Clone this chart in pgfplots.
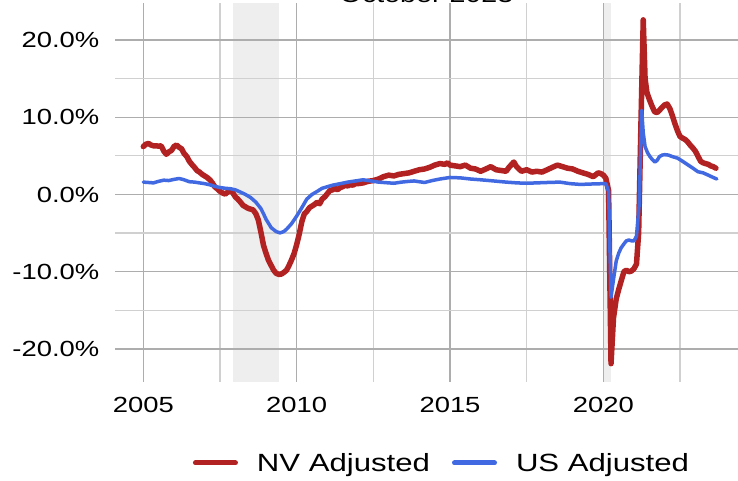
\documentclass[border=0pt]{standalone}
\usepackage{pgfplots}
\pgfplotsset{compat=1.18}
\usepackage{fontspec}
\setmainfont{Liberation Sans}[FakeStretch=1.25]
\definecolor{nvred}{HTML}{B22222}
\definecolor{usblue}{HTML}{4169E1}
\definecolor{shade}{HTML}{EEEEEE}
\definecolor{gmaj}{HTML}{ADADAD}
\definecolor{gmin}{HTML}{D0D0D0}

\begin{document}
\begin{tikzpicture}
\begin{axis}[
  set layers,
  scale only axis,
  width=623bp, height=379bp,
  at={(115bp,99bp)}, anchor=south west,
  xmin=2004.077, xmax=2024.39,
  ymin=-24.27, ymax=24.78,
  axis line style={draw=none},
  major tick length=0pt, minor tick length=0pt,
  xtick={2005,2010,2015,2020},
  xticklabels={2005,2010,2015,2020},
  minor xtick={2007.5,2012.5,2017.5,2022.5},
  ytick={-20,-10,0,10,20},
  yticklabels={-20.0\%,-10.0\%,0.0\%,10.0\%,20.0\%},
  minor ytick={-15,-5,5,15},
  grid=both,
  major grid style={gmaj, line width=1.3bp},
  minor grid style={gmin, line width=1.3bp},
  tick label style={font=\fontsize{22}{26}\selectfont, inner sep=0pt},
  xticklabel style={anchor=north, yshift=-15bp},
  yticklabel style={anchor=east, xshift=-15.5bp},
  legend columns=2,
  legend style={at={(axis description cs:0.5233,-0.2137)}, anchor=center,
    draw=none, fill=none, inner sep=0pt, font=\fontsize{25}{30}\selectfont,
    nodes={inner sep=0pt},
    /tikz/every odd column/.append style={column sep=19bp},
    /tikz/every even column/.append style={column sep=22bp}},
  legend image code/.code={\draw[#1, line width=5bp] (0bp,0bp) -- (40bp,0bp);},
]
\addplot[draw=none, fill=shade, on layer=axis background, forget plot]
  coordinates {(2007.917,-24.27) (2007.917,24.78) (2009.417,24.78) (2009.417,-24.27)} -- cycle;
\addplot[draw=none, fill=shade, on layer=axis background, forget plot]
  coordinates {(2020.02,-24.27) (2020.02,24.78) (2020.25,24.78) (2020.25,-24.27)} -- cycle;

\addplot[nvred, line width=5.5bp, line join=round, line cap=round] coordinates {
(2005.00,6.2) (2005.08,6.5) (2005.17,6.6) (2005.25,6.4) (2005.33,6.3) (2005.42,6.3)
(2005.50,6.25) (2005.58,6.3) (2005.67,5.6) (2005.75,5.2) (2005.83,5.5) (2005.92,5.7)
(2006.00,6.2) (2006.08,6.4) (2006.17,6.1) (2006.25,5.9) (2006.33,5.3) (2006.42,4.9)
(2006.50,4.3) (2006.58,3.9) (2006.67,3.5) (2006.75,3.1) (2006.83,2.9) (2006.92,2.6)
(2007.00,2.4) (2007.08,2.2) (2007.17,1.9) (2007.25,1.5) (2007.33,1.0) (2007.42,0.7)
(2007.50,0.4) (2007.58,0.2) (2007.67,0.05) (2007.75,0.3) (2007.83,0.55) (2007.92,0.2)
(2008.00,-0.3) (2008.08,-0.6) (2008.17,-1.0) (2008.25,-1.4) (2008.33,-1.6) (2008.42,-1.8)
(2008.50,-1.9) (2008.58,-2.0) (2008.67,-2.5) (2008.75,-3.3) (2008.83,-4.8) (2008.92,-6.6)
(2009.00,-7.6) (2009.08,-8.5) (2009.17,-9.2) (2009.25,-9.8) (2009.33,-10.2) (2009.42,-10.35)
(2009.50,-10.3) (2009.58,-10.1) (2009.67,-9.8) (2009.75,-9.2) (2009.83,-8.5) (2009.92,-7.6)
(2010.00,-6.5) (2010.08,-5.2) (2010.17,-3.5) (2010.25,-2.5) (2010.33,-2.2) (2010.42,-1.7)
(2010.50,-1.5) (2010.58,-1.3) (2010.67,-1.0) (2010.75,-1.2) (2010.83,-0.6) (2010.92,-0.3)
(2011.00,0.1) (2011.08,0.5) (2011.17,0.6) (2011.25,0.8) (2011.33,0.6) (2011.42,0.9)
(2011.50,1.0) (2011.58,1.2) (2011.67,1.1) (2011.75,1.3) (2011.83,1.2) (2011.92,1.4)
(2012.00,1.4) (2012.17,1.5) (2012.33,1.7) (2012.50,1.8) (2012.67,2.0) (2012.83,2.3)
(2013.00,2.5) (2013.17,2.4) (2013.33,2.6) (2013.50,2.7) (2013.67,2.8) (2013.83,3.0)
(2014.00,3.2) (2014.17,3.3) (2014.33,3.5) (2014.50,3.8) (2014.67,4.0) (2014.83,3.9)
(2014.92,4.1) (2015.00,3.8) (2015.17,3.7) (2015.33,3.6) (2015.50,3.8) (2015.67,3.4)
(2015.83,3.3) (2016.00,3.0) (2016.17,3.3) (2016.33,3.6) (2016.50,3.2) (2016.67,3.1)
(2016.83,3.0) (2016.92,3.5) (2017.08,4.2) (2017.17,3.6) (2017.33,3.0) (2017.50,3.2)
(2017.67,2.9) (2017.83,3.0) (2018.00,2.9) (2018.17,3.2) (2018.33,3.5) (2018.50,3.8)
(2018.67,3.6) (2018.83,3.4) (2019.00,3.3) (2019.17,3.0) (2019.33,2.8) (2019.50,2.6)
(2019.67,2.3) (2019.83,2.8) (2019.92,2.7) (2020.00,2.5) (2020.08,2.1) (2020.17,0.5)
(2020.25,-21.9) (2020.33,-16.0) (2020.42,-13.5) (2020.50,-12.3) (2020.58,-11.2)
(2020.67,-10.0) (2020.75,-9.8) (2020.83,-10.0) (2020.92,-9.9) (2021.00,-9.6)
(2021.08,-9.0) (2021.15,-5.0) (2021.23,10.0) (2021.30,22.6) (2021.36,15.0)
(2021.42,13.2) (2021.50,12.3) (2021.58,11.5) (2021.67,10.7) (2021.75,10.6)
(2021.83,10.9) (2021.92,11.3) (2022.00,11.6) (2022.08,11.7) (2022.17,11.1)
(2022.25,10.2) (2022.33,9.2) (2022.42,8.2) (2022.50,7.5) (2022.58,7.3) (2022.67,7.1)
(2022.75,6.8) (2022.83,6.4) (2022.92,6.0) (2023.00,5.6) (2023.08,5.0) (2023.17,4.3)
(2023.25,4.1) (2023.33,4.0) (2023.42,3.9) (2023.50,3.7) (2023.58,3.6) (2023.67,3.4)
};
\addlegendentry{NV Adjusted}

\addplot[usblue, line width=3.5bp, line join=round, line cap=round] coordinates {
(2005.00,1.6) (2005.17,1.55) (2005.33,1.5) (2005.50,1.7) (2005.67,1.85) (2005.83,1.8)
(2006.00,1.95) (2006.17,2.07) (2006.33,1.9) (2006.50,1.65) (2006.67,1.6) (2006.83,1.5)
(2007.00,1.4) (2007.17,1.25) (2007.33,1.05) (2007.50,0.9) (2007.67,0.8) (2007.83,0.75)
(2008.00,0.6) (2008.17,0.3) (2008.33,0.0) (2008.50,-0.4) (2008.67,-1.0) (2008.83,-1.8)
(2008.92,-2.5) (2009.00,-3.2) (2009.17,-4.3) (2009.33,-4.8) (2009.46,-4.97) (2009.58,-4.8)
(2009.67,-4.5) (2009.83,-3.8) (2010.00,-2.8) (2010.17,-1.7) (2010.33,-0.6) (2010.50,0.0)
(2010.67,0.4) (2010.83,0.8) (2011.00,1.0) (2011.17,1.2) (2011.42,1.4) (2011.67,1.6)
(2012.00,1.8) (2012.17,1.9) (2012.33,1.8) (2012.50,1.7) (2012.67,1.6) (2012.83,1.55)
(2013.00,1.5) (2013.17,1.45) (2013.42,1.6) (2013.67,1.7) (2013.83,1.75) (2014.00,1.65)
(2014.17,1.55) (2014.42,1.8) (2014.67,2.0) (2015.00,2.2) (2015.33,2.15) (2015.67,2.0)
(2016.00,1.9) (2016.42,1.75) (2016.83,1.6) (2017.17,1.5) (2017.50,1.45) (2017.83,1.5)
(2018.17,1.55) (2018.58,1.6) (2018.92,1.4) (2019.25,1.3) (2019.58,1.35) (2020.00,1.4)
(2020.08,1.4) (2020.17,0.4) (2020.25,-13.3) (2020.33,-11.0) (2020.42,-8.6) (2020.50,-7.6)
(2020.58,-6.9) (2020.67,-6.4) (2020.75,-6.0) (2020.83,-5.9) (2020.92,-6.0) (2021.00,-6.0)
(2021.08,-5.4) (2021.17,-1.2) (2021.25,10.9) (2021.30,8.0) (2021.36,6.2) (2021.44,5.4)
(2021.52,4.9) (2021.60,4.5) (2021.68,4.2) (2021.75,4.4) (2021.83,4.9) (2021.92,5.1)
(2022.00,5.15) (2022.12,5.1) (2022.25,4.9) (2022.42,4.7) (2022.58,4.3) (2022.75,3.85)
(2022.92,3.4) (2023.08,2.95) (2023.25,2.8) (2023.42,2.5) (2023.58,2.2) (2023.70,2.0)
};
\addlegendentry{US Adjusted}
\end{axis}
\node[anchor=base, font=\fontsize{23}{27}\selectfont] at (426.5bp,478bp) {October 2023};
\pgfresetboundingbox
\path[use as bounding box] (0bp,0bp) rectangle (738bp,481bp);
\end{tikzpicture}
\end{document}
